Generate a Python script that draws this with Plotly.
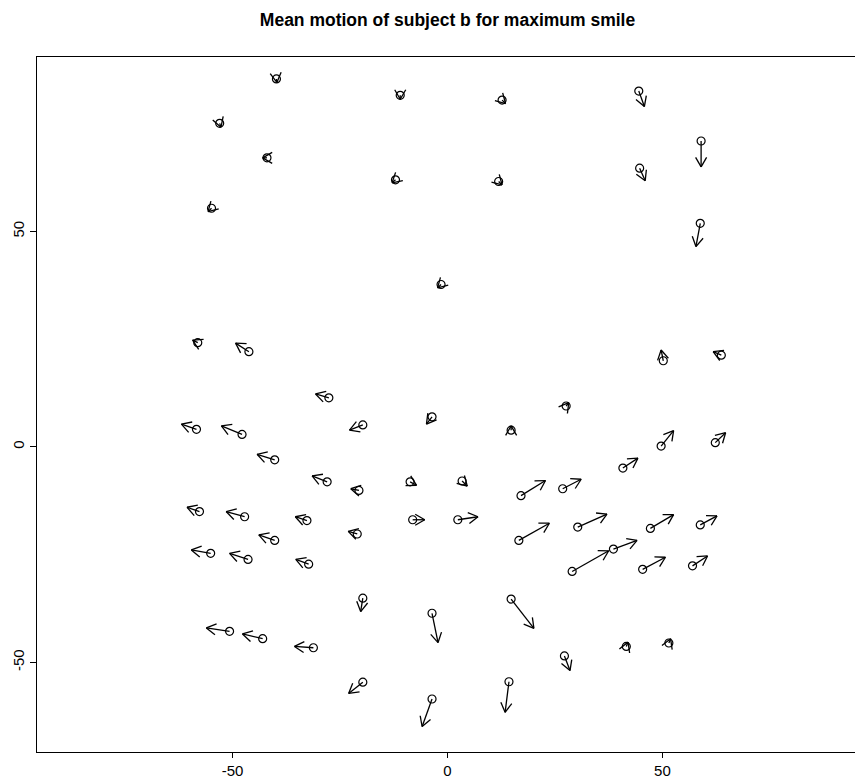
import math
import plotly.graph_objects as go

# Landmark start positions (x0, y0) and mean-motion end positions (x1, y1)
x0 = [-39.8, -11.0, 12.7, 44.5, -53.0, 59.0, -42.0, -12.1, 11.9, 44.7, -54.9, 58.8, -1.5,
      -58.1, -46.2, 50.2, 63.7, -27.6, 27.6, -3.6, -58.4, -47.8, -19.7, 14.8, 49.7, 62.3,
      -40.2, 40.8, -28.0, -20.6, -8.7, 3.4, 17.1, 26.8, -57.7, -47.2, -32.7, -8.1, 2.4,
      30.3, 47.2, 58.8, -21.0, 16.6, -40.2, -55.1, -46.4, -32.3, 29.0, 38.6, 45.4, 57.0,
      -19.7, 14.8, -3.6, -50.7, -43.0, -31.2, 27.2, 41.6, 51.5, -19.7, 14.3, -3.6]
y0 = [85.4, 81.6, 80.5, 82.6, 75.1, 71.0, 67.1, 62.0, 61.6, 64.7, 55.4, 51.9, 37.7,
      24.2, 22.1, 20.0, 21.3, 11.4, 9.5, 7.0, 4.1, 2.9, 5.1, 3.9, 0.2, 1.0,
      -3.0, -4.9, -8.1, -10.1, -8.1, -7.9, -11.3, -9.7, -15.0, -16.2, -17.1, -16.9, -16.9,
      -18.6, -18.9, -18.1, -20.2, -21.7, -21.7, -24.7, -26.1, -27.2, -28.9, -23.7, -28.4, -27.6,
      -35.1, -35.3, -38.6, -42.8, -44.5, -46.6, -48.5, -46.3, -45.5, -54.6, -54.5, -58.5]
x1 = [-39.7, -11.0, 13.5, 45.8, -52.7, 59.0, -43.0, -12.9, 12.7, 46.0, -55.7, 57.8, -2.3,
      -59.3, -49.3, 49.7, 61.8, -30.7, 28.2, -4.9, -61.9, -52.6, -22.8, 14.8, 52.6, 64.7,
      -44.3, 44.3, -31.5, -22.5, -7.2, 4.6, 22.8, 31.1, -60.6, -51.5, -35.4, -5.3, 7.1,
      37.1, 52.6, 62.7, -23.1, 23.7, -43.9, -59.6, -50.7, -35.3, 37.5, 44.1, 50.7, 60.5,
      -20.2, 20.1, -2.2, -56.1, -47.7, -35.6, 28.5, 42.0, 51.9, -23.0, 13.4, -5.9]
y1 = [84.6, 80.7, 79.7, 79.0, 74.2, 65.0, 67.1, 61.3, 60.8, 61.8, 54.6, 46.5, 36.9,
      24.8, 24.1, 22.5, 22.1, 12.3, 10.3, 5.3, 5.3, 4.9, 3.9, 4.9, 3.8, 3.3,
      -1.7, -2.6, -6.7, -9.7, -8.9, -9.1, -7.8, -7.5, -14.0, -15.0, -16.2, -16.9, -16.2,
      -15.6, -15.7, -16.0, -19.6, -17.7, -20.4, -23.9, -24.7, -26.1, -24.1, -21.7, -25.6, -25.3,
      -38.2, -42.1, -45.4, -42.0, -43.4, -46.3, -51.9, -45.3, -44.5, -57.2, -61.6, -64.9]

x_ticks = [-50, 0, 50]
y_ticks = [-50, 0, 50]
title_text = "Mean motion of subject b for maximum smile"

# Layout geometry (page has an 8px body margin)
W, H = 855, 772
ML, MR, MT, MB = 29, 5, 49, 28
XR = [-95.5, 95.5]
YR = [-70.8, 90.5]
sx = (W - ML - MR) / (XR[1] - XR[0])   # px per unit
sy = (H - MT - MB) / (YR[1] - YR[0])

HEAD = 11.0   # px
ANG = math.radians(30)

shaft_x, shaft_y, head_x, head_y = [], [], [], []
for a, b, c, d in zip(x0, y0, x1, y1):
    shaft_x += [a, c, None]
    shaft_y += [b, d, None]
    dxp = (c - a) * sx
    dyp = (d - b) * sy
    th = math.atan2(dyp, dxp)
    for s in (1, -1):
        phi = th + math.pi + s * ANG
        hx = c + HEAD * math.cos(phi) / sx
        hy = d + HEAD * math.sin(phi) / sy
        head_x += [c, hx, None]
        head_y += [d, hy, None]

fig = go.Figure()
fig.add_trace(go.Scatter(x=shaft_x, y=shaft_y, mode="lines",
                         line=dict(color="black", width=1.3), hoverinfo="skip"))
fig.add_trace(go.Scatter(x=head_x, y=head_y, mode="lines",
                         line=dict(color="black", width=1.3), hoverinfo="skip"))
fig.add_trace(go.Scatter(x=x0, y=y0, mode="markers",
                         marker=dict(symbol="circle-open", size=8, color="black",
                                     line=dict(width=1.2))))

font_fam = "Liberation Sans, Arial, sans-serif"
fig.update_layout(
    width=W, height=H,
    margin=dict(l=ML, r=MR, t=MT, b=MB),
    paper_bgcolor="white", plot_bgcolor="white",
    showlegend=False,
    title=dict(text="<b>" + title_text + "</b>", x=0.5, xanchor="center", xref="paper",
               y=1 - 12 / H, yanchor="middle", yref="container",
               font=dict(family=font_fam, size=17.5, color="black")),
    font=dict(family=font_fam, size=15, color="black"),
)
fig.update_xaxes(range=XR, tickvals=x_ticks, ticktext=[str(v) for v in x_ticks],
                 showgrid=False, zeroline=False, showline=True, mirror=True,
                 linecolor="black", linewidth=1, ticks="outside", ticklen=5,
                 tickcolor="black", tickfont=dict(size=15), automargin=False)
fig.update_yaxes(range=YR, tickvals=y_ticks, ticktext=[str(v) for v in y_ticks],
                 showgrid=False, zeroline=False, showline=True, mirror=True,
                 linecolor="black", linewidth=1, ticks="outside", ticklen=6,
                 tickcolor="black", tickangle=-90, tickfont=dict(size=15),
                 automargin=False)

fig.write_html("out.html")
